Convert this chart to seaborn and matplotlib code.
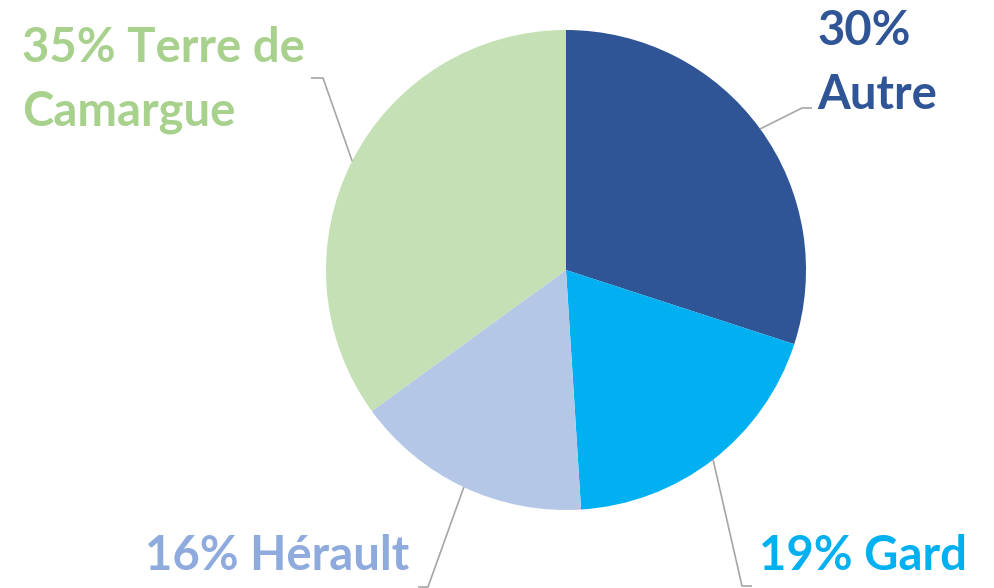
import numpy as np
import matplotlib
matplotlib.use("Agg")
import matplotlib.pyplot as plt
import seaborn as sns

# data
categories = ["Autre", "Gard", "Hérault", "Terre de\nCamargue"]
shares = [30, 19, 16, 35]
wedge_colors = ["#2F5597", "#00B0F0", "#B4C7E7", "#C5E0B4"]
label_colors = ["#2F5597", "#00B0F0", "#8FAADC", "#A9D18E"]

sns.set_theme(style="white")
plt.rcParams["font.family"] = ["Lato", "DejaVu Sans"]

W, H = 994, 588
fig = plt.figure(figsize=(W / 100, H / 100), dpi=100)
ax = fig.add_axes([0, 0, 1, 1])

# pie in pixel-like coords, y axis inverted (screen coords)
cx, cy, r = 566, 270, 240
wedges, _ = ax.pie(shares, colors=wedge_colors, startangle=-90, counterclock=True,
                   center=(cx, cy), radius=r, wedgeprops=dict(linewidth=0))
ax.set_xlim(0, W)
ax.set_ylim(H, 0)
ax.set_aspect("equal")
ax.axis("off")

# label layout: (elbow point, end of horizontal, text x, first baseline)
layout = [
    ((802, 108), 812, 817, 45),
    ((742, 586), 752, 759, 570),
    ((428, 587), 418, 145, 570),
    ((323, 78), 311, 22, 62),
]
line_h = 64

for w, cat, pct, col, (elbow, hend, tx, ty) in zip(wedges, categories, shares, label_colors, layout):
    mid = np.deg2rad((w.theta1 + w.theta2) / 2)
    x0 = cx + r * np.cos(mid)
    y0 = cy + r * np.sin(mid)
    ax.plot([x0, elbow[0], hend], [y0, elbow[1], elbow[1]], color="#A6A6A6", lw=1.2,
            solid_capstyle="butt", zorder=1)
    if cat == "Autre":
        lines = [f"{pct}%", cat]
    elif "\n" in cat:
        a, b = cat.split("\n")
        lines = [f"{pct}% {a}", b]
    else:
        lines = [f"{pct}% {cat}"]
    for i, s in enumerate(lines):
        ax.text(tx, ty + i * line_h, s, color=col, fontsize=34, fontweight="bold",
                ha="left", va="baseline")

fig.savefig("out.png", dpi=100)
